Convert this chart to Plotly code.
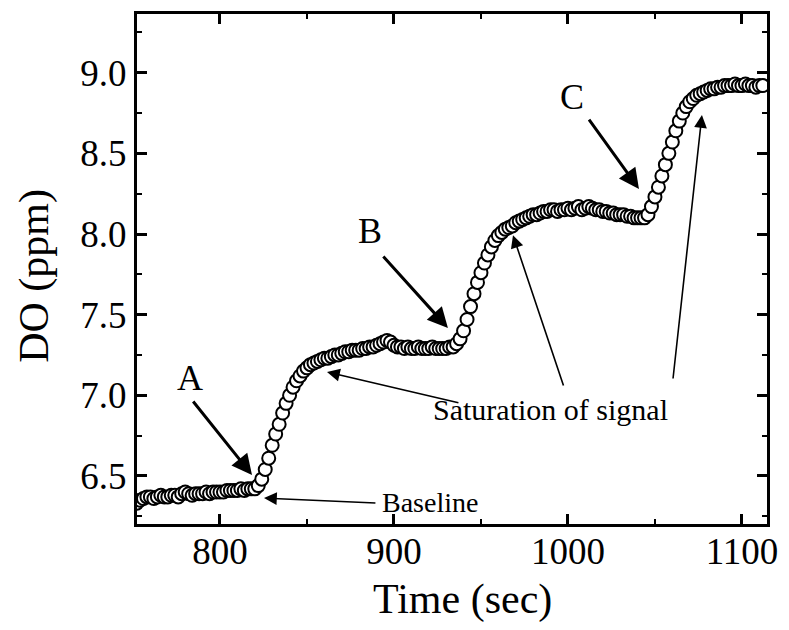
import plotly.graph_objects as go

# Time (sec)
time_s = [
    752, 754, 756, 758, 760, 762, 764, 766, 768, 770,
    772, 774, 776, 778, 780, 782, 784, 786, 788, 790,
    792, 794, 796, 798, 800, 802, 804, 806, 808, 810,
    812, 814, 816, 818, 820, 822, 824, 826, 828, 830,
    832, 834, 836, 838, 840, 842, 844, 846, 848, 850,
    852, 854, 856, 858, 860, 862, 864, 866, 868, 870,
    872, 874, 876, 878, 880, 882, 884, 886, 888, 890,
    892, 894, 896, 898, 900, 902, 904, 906, 908, 910,
    912, 914, 916, 918, 920, 922, 924, 926, 928, 930,
    932, 934, 936, 938, 940, 942, 944, 946, 948, 950,
    952, 954, 956, 958, 960, 962, 964, 966, 968, 970,
    972, 974, 976, 978, 980, 982, 984, 986, 988, 990,
    992, 994, 996, 998, 1000, 1002, 1004, 1006, 1008, 1010,
    1012, 1014, 1016, 1018, 1020, 1022, 1024, 1026, 1028, 1030,
    1032, 1034, 1036, 1038, 1040, 1042, 1044, 1046, 1048, 1050,
    1052, 1054, 1056, 1058, 1060, 1062, 1064, 1066, 1068, 1070,
    1072, 1074, 1076, 1078, 1080, 1082, 1084, 1086, 1088, 1090,
    1092, 1094, 1096, 1098, 1100, 1102, 1104, 1106, 1108, 1110,
    1112,
]

# Dissolved oxygen (ppm)
do_ppm = [
    6.33, 6.35, 6.36, 6.37, 6.37, 6.36, 6.37, 6.38, 6.37, 6.37,
    6.38, 6.38, 6.37, 6.39, 6.40, 6.39, 6.38, 6.39, 6.39, 6.39,
    6.40, 6.39, 6.40, 6.40, 6.40, 6.40, 6.41, 6.41, 6.41, 6.41,
    6.42, 6.41, 6.42, 6.42, 6.42, 6.44, 6.48, 6.54, 6.61, 6.69,
    6.76, 6.82, 6.89, 6.95, 7.00, 7.05, 7.09, 7.12, 7.15, 7.17,
    7.19, 7.20, 7.21, 7.22, 7.23, 7.23, 7.24, 7.25, 7.25, 7.26,
    7.27, 7.27, 7.28, 7.28, 7.28, 7.29, 7.29, 7.30, 7.30, 7.31,
    7.32, 7.33, 7.34, 7.33, 7.31, 7.30, 7.30, 7.29, 7.30, 7.29,
    7.29, 7.30, 7.29, 7.29, 7.29, 7.30, 7.29, 7.29, 7.29, 7.29,
    7.30, 7.30, 7.32, 7.35, 7.40, 7.47, 7.55, 7.63, 7.70, 7.76,
    7.82, 7.87, 7.92, 7.96, 7.99, 8.01, 8.03, 8.04, 8.05, 8.07,
    8.08, 8.09, 8.10, 8.11, 8.12, 8.12, 8.13, 8.14, 8.14, 8.15,
    8.15, 8.14, 8.15, 8.15, 8.16, 8.15, 8.16, 8.17, 8.15, 8.16,
    8.17, 8.16, 8.15, 8.15, 8.14, 8.14, 8.13, 8.13, 8.12, 8.12,
    8.12, 8.11, 8.11, 8.10, 8.10, 8.10, 8.10, 8.12, 8.17, 8.23,
    8.29, 8.36, 8.43, 8.50, 8.57, 8.64, 8.70, 8.75, 8.79, 8.82,
    8.84, 8.86, 8.87, 8.88, 8.89, 8.90, 8.90, 8.91, 8.91, 8.92,
    8.92, 8.92, 8.93, 8.92, 8.92, 8.93, 8.92, 8.92, 8.91, 8.92,
    8.92,
]

x_range = [752.3, 1114.4]
y_range = [6.202, 9.364]

# Step labels: (text, time, DO)
step_labels = ["A", "B", "C"]
step_label_t = [782.8, 886.2, 1002.1]
step_label_v = [7.11, 8.02, 8.85]

# Step arrows: tail (t, v) -> head (t, v)
step_tail_t = [783.9, 893.1, 1011.5]
step_tail_v = [6.971, 7.870, 8.719]
step_head_t = [818.4, 931.0, 1040.8]
step_head_v = [6.506, 7.417, 8.279]

# Saturation arrows
sat_tail_t = [937.9, 997.7, 1060.3]
sat_tail_v = [6.952, 7.051, 7.095]
sat_head_t = [861.5, 968.4, 1077.0]
sat_head_v = [7.144, 7.993, 8.738]

# Baseline arrow
base_tail = (890.2, 6.332)
base_head = (825.3, 6.363)

FONT = "Liberation Serif"

fig = go.Figure()
fig.add_trace(go.Scatter(
    x=time_s, y=do_ppm, mode="markers",
    marker=dict(symbol="circle", size=13, color="white",
                line=dict(color="black", width=2)),
    showlegend=False, cliponaxis=True,
))

ann = []
for txt, t, v in zip(step_labels, step_label_t, step_label_v):
    ann.append(dict(x=t, y=v, xref="x", yref="y", text=txt, showarrow=False,
                    font=dict(family=FONT, size=36, color="black")))
for tt, tv, ht, hv in zip(step_tail_t, step_tail_v, step_head_t, step_head_v):
    ann.append(dict(x=ht, y=hv, ax=tt, ay=tv, xref="x", yref="y", axref="x", ayref="y",
                    text="", showarrow=True, arrowhead=2, arrowsize=1.35,
                    arrowwidth=3, arrowcolor="black", standoff=0, startstandoff=0))
for tt, tv, ht, hv in zip(sat_tail_t, sat_tail_v, sat_head_t, sat_head_v):
    ann.append(dict(x=ht, y=hv, ax=tt, ay=tv, xref="x", yref="y", axref="x", ayref="y",
                    text="", showarrow=True, arrowhead=2, arrowsize=1.6,
                    arrowwidth=1.6, arrowcolor="black", standoff=0, startstandoff=0))
ann.append(dict(x=base_head[0], y=base_head[1], ax=base_tail[0], ay=base_tail[1],
                xref="x", yref="y", axref="x", ayref="y",
                text="", showarrow=True, arrowhead=2, arrowsize=1.6,
                arrowwidth=1.6, arrowcolor="black", standoff=0, startstandoff=0))
ann.append(dict(x=989.7, y=6.91, xref="x", yref="y", text="Saturation of signal",
                showarrow=False, font=dict(family=FONT, size=30, color="black")))
ann.append(dict(x=920.7, y=6.335, xref="x", yref="y", text="Baseline",
                showarrow=False, font=dict(family=FONT, size=28, color="black")))
# Axis titles
ann.append(dict(x=0.516, y=-0.148, xref="paper", yref="paper", text="Time (sec)",
                showarrow=False, xanchor="center", yanchor="middle",
                font=dict(family=FONT, size=42, color="black")))
ann.append(dict(x=-0.164, y=0.486, xref="paper", yref="paper", text="DO (ppm)",
                showarrow=False, xanchor="center", yanchor="middle", textangle=-90,
                font=dict(family=FONT, size=42, color="black")))

axis_common = dict(
    showline=True, linecolor="black", linewidth=3, mirror="allticks",
    ticks="inside", ticklen=10, tickwidth=2.5, tickcolor="black",
    showgrid=False, zeroline=False, automargin=False,
    tickfont=dict(family=FONT, size=37, color="black"),
)

# page body adds 8 px margin; figure is sized so the plot lands where the reference has it
fig.update_layout(
    width=781, height=622,
    margin=dict(l=129, r=22, t=6, b=106),
    paper_bgcolor="white", plot_bgcolor="white",
    font=dict(family=FONT, color="black"),
    annotations=ann,
    xaxis=dict(range=x_range, dtick=100, tick0=800, ticklabelstandoff=-7,
               minor=dict(ticks="inside", ticklen=5, tickwidth=2, dtick=50, tick0=800,
                          tickcolor="black"),
               **axis_common),
    yaxis=dict(range=y_range, dtick=0.5, tick0=6.5, tickformat=".1f",
               minor=dict(ticks="inside", ticklen=5, tickwidth=2, dtick=0.25, tick0=6.5,
                          tickcolor="black"),
               **axis_common),
)

fig.write_html("out.html")
